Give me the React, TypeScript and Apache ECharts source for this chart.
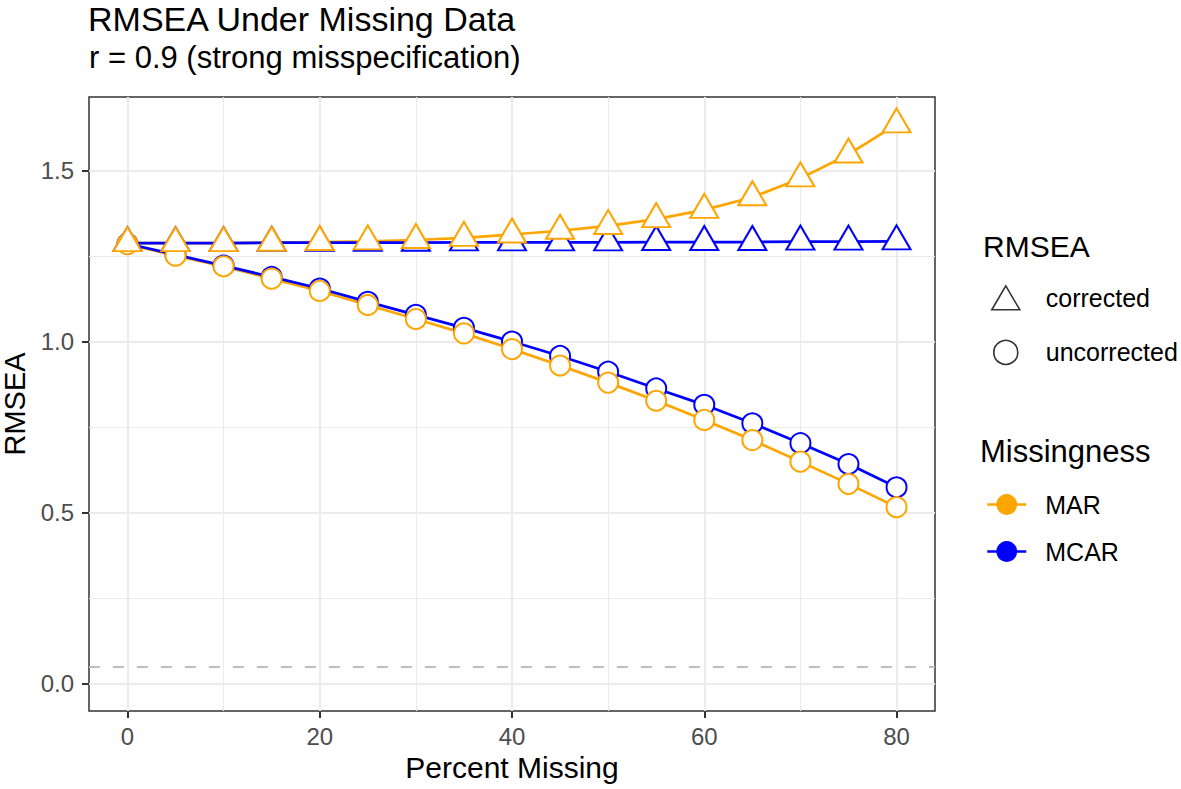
import React, { useEffect, useRef } from "react";
import * as echarts from "echarts";

const X_VALUES = [0, 5, 10, 15, 20, 25, 30, 35, 40, 45, 50, 55, 60, 65, 70, 75, 80];
const MAR_CORRECTED = [1.289, 1.289, 1.289, 1.29, 1.292, 1.294, 1.298, 1.304, 1.314, 1.325, 1.339, 1.359, 1.386, 1.423, 1.478, 1.548, 1.636];
const MCAR_CORRECTED = [1.289, 1.289, 1.289, 1.29, 1.29, 1.29, 1.29, 1.291, 1.291, 1.291, 1.291, 1.292, 1.292, 1.292, 1.293, 1.293, 1.294];
const MAR_UNCORRECTED = [1.286, 1.252, 1.221, 1.185, 1.149, 1.108, 1.067, 1.025, 0.979, 0.931, 0.881, 0.828, 0.772, 0.713, 0.65, 0.585, 0.517];
const MCAR_UNCORRECTED = [1.287, 1.255, 1.223, 1.19, 1.156, 1.117, 1.079, 1.041, 1.001, 0.959, 0.913, 0.864, 0.816, 0.762, 0.704, 0.643, 0.575];
const X_TICKS = [0, 20, 40, 60, 80];
const X_MINOR = [10, 30, 50, 70];
const Y_TICKS = [0, 0.5, 1.0, 1.5];
const Y_MINOR = [0.25, 0.75, 1.25];
const REF_LINE = 0.05;

const ORANGE = "#FFA500";
const BLUE = "#0000FF";
const FONT = "Liberation Sans";

const pairs = (vals: number[]) => X_VALUES.map((x, i) => [x, vals[i]]);

export default function App() {
  const ref = useRef<HTMLDivElement>(null);
  useEffect(() => {
    if (!ref.current) return;
    const chart = echarts.init(ref.current, null, { renderer: "svg" });
    const lineSeries = (name: string, vals: number[], color: string) => ({
      name,
      type: "line",
      data: pairs(vals),
      symbol: "none",
      z: 2,
      lineStyle: { color, width: 2.7 },
      itemStyle: { color },
    });
    const pointSeries = (name: string, vals: number[], color: string, tri: boolean) => ({
      name,
      type: "scatter",
      data: pairs(vals),
      z: 3,
      symbol: tri ? "triangle" : "circle",
      symbolSize: tri ? [28, 24] : 20,
      symbolOffset: tri ? [0, -4] : [0, 0],
      itemStyle: { color: "#ffffff", borderColor: color, borderWidth: 2, opacity: 1 },
    });
    const option: any = {
      animation: false,
      textStyle: { fontFamily: FONT },
      title: [
        { text: "RMSEA Under Missing Data", left: 88, top: 2, padding: 0, textStyle: { fontSize: 34, fontWeight: "normal", color: "#000", fontFamily: FONT } },
        { text: "r = 0.9 (strong misspecification)", left: 89, top: 42, padding: 0, textStyle: { fontSize: 31, fontWeight: "normal", color: "#000", fontFamily: FONT } },
        { text: "RMSEA", left: 983, top: 231, padding: 0, textStyle: { fontSize: 30, fontWeight: "normal", color: "#000", fontFamily: FONT } },
        { text: "Missingness", left: 980, top: 436, padding: 0, textStyle: { fontSize: 31, fontWeight: "normal", color: "#000", fontFamily: FONT } },
      ],
      grid: { left: 89, top: 97, width: 846, height: 614, show: true, borderColor: "#333333", borderWidth: 1.5, backgroundColor: "#ffffff", containLabel: false, outerBoundsMode: "none" },
      legend: [
        {
          orient: "vertical", left: 991, top: 285, padding: 0, itemWidth: 28, itemHeight: 24, itemGap: 29, selectedMode: false,
          textStyle: { fontSize: 25, color: "#000", fontFamily: FONT, padding: [0, 0, 0, 21] },
          data: [
            { name: "corrected", icon: "triangle", itemStyle: { color: "#ffffff", borderColor: "#000000", borderWidth: 1.6 } },
            { name: "uncorrected", icon: "circle", itemStyle: { color: "#ffffff", borderColor: "#000000", borderWidth: 1.6 } },
          ],
        },
        {
          orient: "vertical", left: 986, top: 492, padding: 0, itemWidth: 39, itemHeight: 26, itemGap: 22, selectedMode: false,
          textStyle: { fontSize: 25, color: "#000", fontFamily: FONT, padding: [0, 0, 0, 14] },
          lineStyle: { width: 2.5 },
          data: ["MAR", "MCAR"],
        },
      ],
      xAxis: [
        {
          type: "value", min: -4, max: 84, position: "bottom",
          name: "Percent Missing", nameLocation: "middle", nameGap: 37,
          nameTextStyle: { fontSize: 30, color: "#000", fontFamily: FONT },
          axisLine: { show: false, onZero: false },
          axisTick: { show: true, customValues: X_TICKS, length: 7, lineStyle: { color: "#333333", width: 2 } },
          axisLabel: { show: true, customValues: X_TICKS, margin: 13, fontSize: 24, color: "#4D4D4D", fontFamily: FONT, formatter: (v: number) => String(v) },
          splitLine: { show: true, lineStyle: { color: "#EBEBEB", width: 2 } },
        },
        {
          type: "value", min: -4, max: 84, position: "top",
          axisLine: { show: false, onZero: false },
          axisTick: { show: false, customValues: X_MINOR },
          axisLabel: { show: false, customValues: X_MINOR },
          splitLine: { show: true, lineStyle: { color: "#EBEBEB", width: 1 } },
        },
      ],
      yAxis: [
        {
          type: "value", min: -0.079, max: 1.716, position: "left",
          name: "RMSEA", nameLocation: "middle", nameGap: 53,
          nameTextStyle: { fontSize: 29, color: "#000", fontFamily: FONT },
          axisLine: { show: false, onZero: false },
          axisTick: { show: true, customValues: Y_TICKS, length: 7, lineStyle: { color: "#333333", width: 2 } },
          axisLabel: { show: true, customValues: Y_TICKS, margin: 15, fontSize: 24, color: "#4D4D4D", fontFamily: FONT, formatter: (v: number) => v.toFixed(1) },
          splitLine: { show: true, lineStyle: { color: "#EBEBEB", width: 2 } },
        },
        {
          type: "value", min: -0.079, max: 1.716, position: "right",
          axisLine: { show: false, onZero: false },
          axisTick: { show: false, customValues: Y_MINOR },
          axisLabel: { show: false, customValues: Y_MINOR },
          splitLine: { show: true, lineStyle: { color: "#EBEBEB", width: 1 } },
        },
      ],
      series: [
        {
          name: "ref", type: "line", data: [], z: 1,
          markLine: {
            silent: true, symbol: "none", label: { show: false },
            lineStyle: { color: "#BEBEBE", width: 2, type: [11, 13] },
            data: [{ yAxis: REF_LINE }],
          },
        },
        lineSeries("MAR corrected", MAR_CORRECTED, ORANGE),
        lineSeries("MAR uncorrected", MAR_UNCORRECTED, ORANGE),
        lineSeries("MCAR corrected", MCAR_CORRECTED, BLUE),
        lineSeries("MCAR uncorrected", MCAR_UNCORRECTED, BLUE),
        pointSeries("MCAR uncorrected pts", MCAR_UNCORRECTED, BLUE, false),
        pointSeries("MCAR corrected pts", MCAR_CORRECTED, BLUE, true),
        pointSeries("MAR uncorrected pts", MAR_UNCORRECTED, ORANGE, false),
        pointSeries("MAR corrected pts", MAR_CORRECTED, ORANGE, true),
        { name: "corrected", type: "scatter", data: [], symbol: "triangle", itemStyle: { color: "#ffffff", borderColor: "#000000", borderWidth: 1.6 } },
        { name: "uncorrected", type: "scatter", data: [], symbol: "circle", itemStyle: { color: "#ffffff", borderColor: "#000000", borderWidth: 1.6 } },
        { name: "MAR", type: "line", data: [], symbol: "circle", lineStyle: { color: ORANGE, width: 2.5 }, itemStyle: { color: ORANGE } },
        { name: "MCAR", type: "line", data: [], symbol: "circle", lineStyle: { color: BLUE, width: 2.5 }, itemStyle: { color: BLUE } },
      ],
    };
    chart.setOption(option);
    return () => chart.dispose();
  }, []);
  return <div ref={ref} style={{ position: "fixed", left: 0, top: 0, width: 1181, height: 789, background: "#ffffff" }} />;
}
